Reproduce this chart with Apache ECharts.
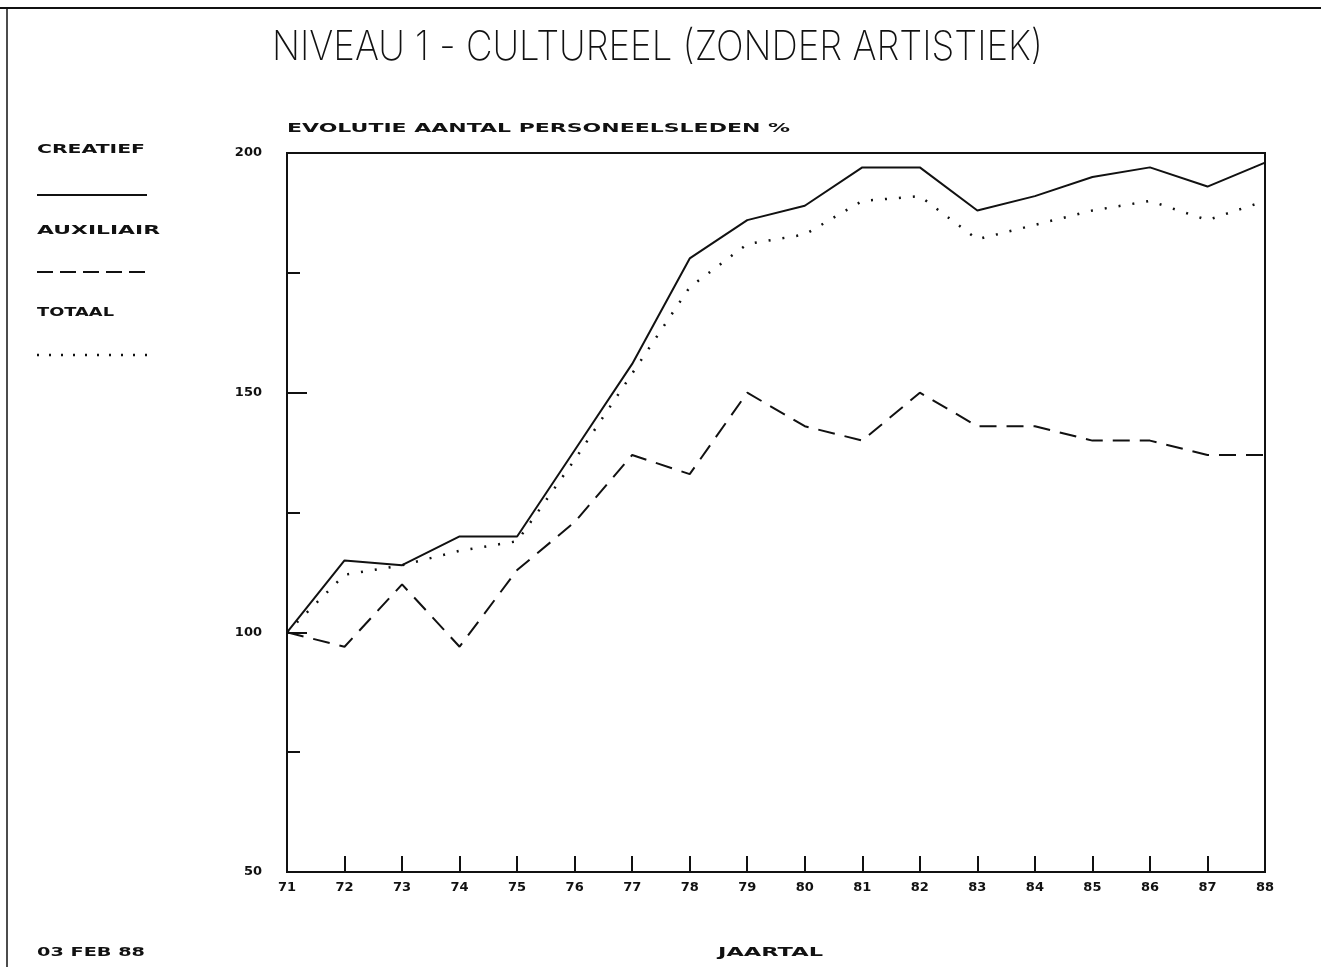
<!DOCTYPE html>
<html>
<head>
<meta charset="utf-8">
<script src="https://cdn.jsdelivr.net/npm/echarts@6/dist/echarts.min.js"></script>
<style>
  html, body { margin: 0; padding: 0; background: #fff; }
  #chart { width: 1321px; height: 967px; }
</style>
</head>
<body>
<div id="chart"></div>
<script>
// jaartal 1971 .. 1988, index 1971 = 100
const years = ["71", "72", "73", "74", "75", "76", "77", "78", "79",
  "80", "81", "82", "83", "84", "85", "86", "87", "88"];
const creatief = [100, 115, 114, 120, 120, 138, 156, 178, 186,
  189, 197, 197, 188, 191, 195, 197, 193, 198];
const auxiliair = [100, 97, 110, 97, 113, 123, 137, 133, 150,
  143, 140, 150, 143, 143, 140, 140, 137, 137];
const totaal = [100, 112, 114, 117, 119, 136, 154, 172, 181,
  183, 190, 191, 182, 185, 188, 190, 186, 190];
const seriesNames = ["CREATIEF", "AUXILIAIR", "TOTAAL"];
const yLabels = [50, 100, 150, 200];

const INK = "#111";
const smallFont = 'bold 12px "DejaVu Sans"';
const titleFont = '200 41px Inter';

const measureCtx = document.createElement("canvas").getContext("2d");

// stretch text horizontally so it covers the given width (plotter font is very wide)
function fitText(text, x, y, width, font, align) {
  measureCtx.font = font;
  const w = measureCtx.measureText(text).width;
  return {
    type: "text",
    x: x,
    y: y,
    scaleX: width / w,
    silent: true,
    style: {
      text: text,
      font: font,
      fill: INK,
      align: align || "left",
      verticalAlign: "middle",
    },
  };
}

function legendLine(y, type) {
  return {
    type: "line",
    silent: true,
    shape: { x1: 37, y1: y, x2: 147, y2: y },
    style: {
      stroke: INK,
      lineWidth: type === "dotted" ? 2.5 : 2,
      lineDash: type === "dashed" ? [16, 7] : type === "dotted" ? [2, 10] : null,
    },
  };
}

const chart = echarts.init(document.getElementById("chart"));

const lineTypes = ["solid", [17, 10], [2, 12]];
const seriesData = [creatief, auxiliair, totaal];

const labelStyle = {
  color: INK,
  fontFamily: "DejaVu Sans",
  fontWeight: "bold",
  fontSize: 13,
};

chart.setOption({
  backgroundColor: "#fff",
  animation: false,
  grid: {
    left: 287,
    right: 56,
    top: 153,
    bottom: 95,
    show: true,
    borderColor: INK,
    borderWidth: 2,
  },
  xAxis: {
    type: "category",
    data: years,
    boundaryGap: false,
    axisLine: { lineStyle: { color: INK, width: 2 } },
    axisTick: {
      inside: true,
      length: 16,
      alignWithLabel: true,
      lineStyle: { color: INK, width: 2 },
    },
    axisLabel: Object.assign({ margin: 9, interval: 0 }, labelStyle),
    splitLine: { show: false },
  },
  yAxis: {
    type: "value",
    min: 50,
    max: 200,
    interval: 50,
    axisLine: { show: true, lineStyle: { color: INK, width: 2 } },
    axisTick: {
      show: true,
      inside: true,
      length: 20,
      lineStyle: { color: INK, width: 2 },
    },
    minorTick: {
      show: true,
      splitNumber: 2,
      length: 13,
      lineStyle: { color: INK, width: 2 },
    },
    axisLabel: Object.assign({
      margin: 25,
      formatter: (v) => (yLabels.indexOf(v) >= 0 ? String(v) : ""),
    }, labelStyle),
    splitLine: { show: false },
  },
  series: seriesNames.map((name, i) => ({
    name: name,
    type: "line",
    data: seriesData[i],
    symbol: "none",
    silent: true,
    lineStyle: {
      color: INK,
      width: i === 2 ? 2.5 : 2,
      type: lineTypes[i],
    },
  })),
  graphic: [
    // page frame
    { type: "line", silent: true, shape: { x1: 0, y1: 8, x2: 1321, y2: 8 }, style: { stroke: INK, lineWidth: 2 } },
    { type: "line", silent: true, shape: { x1: 7, y1: 8, x2: 7, y2: 967 }, style: { stroke: INK, lineWidth: 1.5 } },
    // titles
    fitText("NIVEAU 1 - CULTUREEL (ZONDER ARTISTIEK)", 272, 48, 771, titleFont),
    fitText("EVOLUTIE AANTAL PERSONEELSLEDEN %", 287, 129, 503, smallFont),
    // legend
    fitText(seriesNames[0], 37, 150, 108, smallFont),
    legendLine(195, "solid"),
    fitText(seriesNames[1], 37, 231, 123, smallFont),
    legendLine(272, "dashed"),
    fitText(seriesNames[2], 37, 313, 77, smallFont),
    legendLine(355, "dotted"),
    // footer
    fitText("03 FEB 88", 37, 953, 108, smallFont),
    fitText("JAARTAL", 718, 953, 105, smallFont),
  ],
});
</script>
</body>
</html>
